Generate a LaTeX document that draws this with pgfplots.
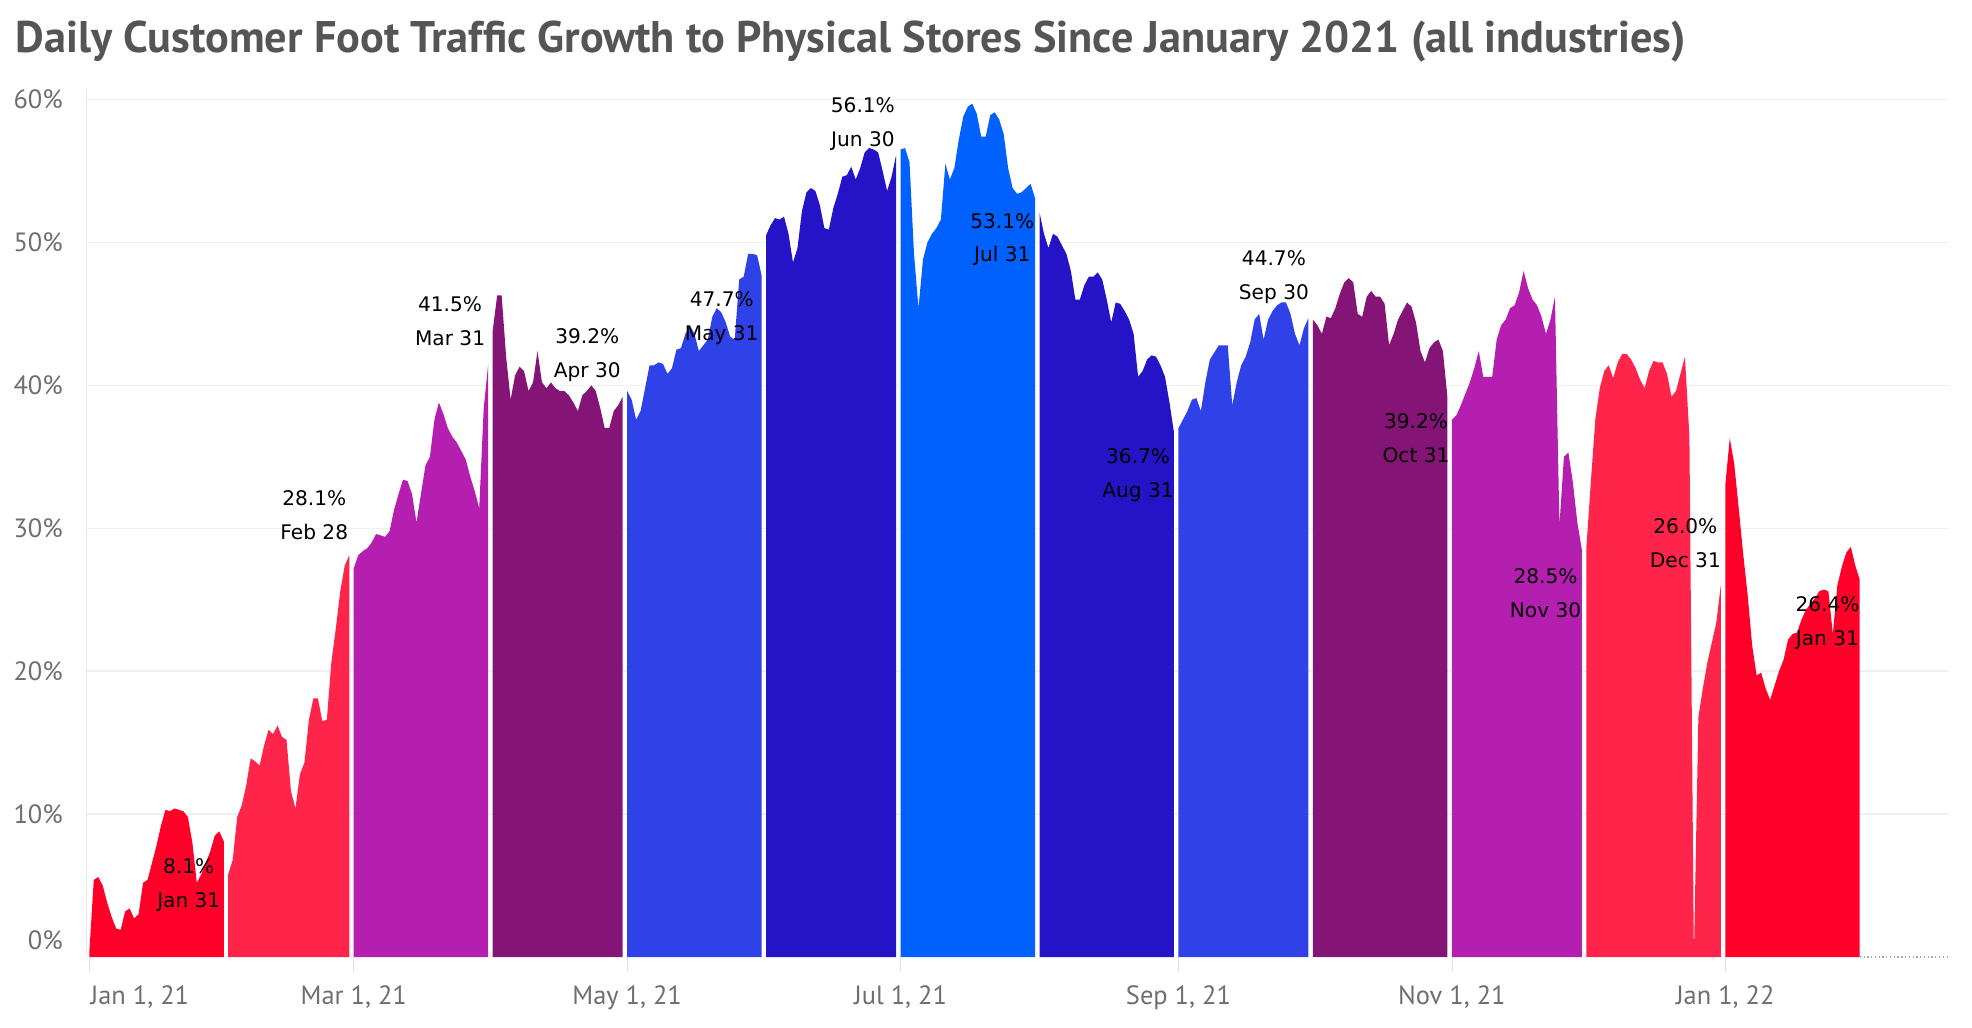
\documentclass[border=0pt]{standalone}
\usepackage{fontspec}
\usepackage{graphicx}
\usepackage{pgfplots}
\pgfplotsset{compat=1.18}
\setmainfont{PT Sans}
\newfontfamily\titlefont{PT Sans}
\newfontfamily\lblfont{DejaVu Sans}
\definecolor{cA}{RGB}{255,0,40}
\definecolor{cB}{RGB}{255,36,74}
\definecolor{cC}{RGB}{181,31,176}
\definecolor{cD}{RGB}{132,21,118}
\definecolor{cE}{RGB}{46,66,232}
\definecolor{cF}{RGB}{37,20,199}
\definecolor{cG}{RGB}{0,97,255}
\definecolor{titlegray}{RGB}{85,85,85}
\definecolor{tickgray}{RGB}{110,110,110}
\newcommand\janlbl{Jan 1, 21}
\begin{document}
\begin{tikzpicture}
\path[use as bounding box] (-34.5pt,-28pt) rectangle (749.5pt,380.5pt);
\node[anchor=base west, inner sep=0, text=titlegray] at (-28.5pt,359.5pt) {\resizebox{664pt}{!}{\titlefont\bfseries Daily Customer Foot Traffic Growth to Physical Stores Since January 2021 (all industries)}};
\begin{axis}[
  at={(0,0)}, anchor=south west, scale only axis,
  width=740.5pt, height=345.5pt,
  xmin=-0.56, xmax=415, ymin=0, ymax=60.8,
  clip=false,
  axis lines=left, axis line style={-},
  x axis line style={draw=none},
  y axis line style={draw=black!8},
  ytick={10,20,30,40,50,60},
  yticklabels={10\%,20\%,30\%,40\%,50\%,60\%},
  extra y ticks={0}, extra y tick labels={0\%},
  extra y tick style={yticklabel style={yshift=6.5pt}, grid=none},
  ytick style={draw=none},
  ymajorgrids, grid style={draw=black!6, line width=0.6pt},
  xtick={59,120,181,243,304,365},
  xticklabels={{Mar 1, 21},{May 1, 21},{Jul 1, 21},{Sep 1, 21},{Nov 1, 21},{Jan 1, 22}},
  extra x ticks={0}, extra x tick labels={\janlbl},
  extra x tick style={xticklabel style={anchor=north west, xshift=-3pt}},
  xtick style={draw=black!12},
  major tick length=6pt, tick align=outside,
  ticklabel style={font=\fontsize{10.5}{12}\selectfont, text=tickgray},
  xticklabel style={yshift=-2pt},
]
\addplot[densely dotted, black!35, line width=0.5pt] coordinates {(395,0) (415,0)};
% Jan 2021
\addplot[fill=cA, draw=none] coordinates {(0,0.3) (1,5.4) (2,5.6) (3,5.0) (4,3.8) (5,2.8) (6,2.0) (7,1.9) (8,3.2) (9,3.4) (10,2.7) (11,3.0) (12,5.2) (13,5.4) (14,6.6) (15,7.8) (16,9.2) (17,10.3) (18,10.2) (19,10.4) (20,10.3) (21,10.2) (22,9.8) (23,8.0) (24,5.2) (25,5.8) (26,6.6) (27,7.4) (28,8.5) (29,8.8) (30,8.1)} \closedcycle;
% Feb
\addplot[fill=cB, draw=none] coordinates {(31,5.8) (32,6.8) (33,9.8) (34,10.6) (35,12.0) (36,13.9) (37,13.7) (38,13.4) (39,14.8) (40,15.9) (41,15.6) (42,16.2) (43,15.4) (44,15.2) (45,11.6) (46,10.4) (47,12.8) (48,13.6) (49,16.6) (50,18.1) (51,18.1) (52,16.5) (53,16.6) (54,20.6) (55,23.0) (56,25.6) (57,27.4) (58,28.1)} \closedcycle;
% Mar
\addplot[fill=cC, draw=none] coordinates {(59,27.2) (60,28.1) (61,28.4) (62,28.6) (63,29.0) (64,29.6) (65,29.5) (66,29.4) (67,29.8) (68,31.3) (69,32.4) (70,33.4) (71,33.3) (72,32.4) (73,30.4) (74,32.4) (75,34.4) (76,35.0) (77,37.6) (78,38.8) (79,38.0) (80,37.0) (81,36.4) (82,36.0) (83,35.4) (84,34.8) (85,33.6) (86,32.6) (87,31.4) (88,38.4) (89,41.5)} \closedcycle;
% Apr
\addplot[fill=cD, draw=none] coordinates {(90,43.8) (91,46.3) (92,46.3) (93,42.0) (94,39.0) (95,40.7) (96,41.3) (97,41.0) (98,39.6) (99,40.2) (100,42.4) (101,40.2) (102,39.8) (103,40.2) (104,39.8) (105,39.6) (106,39.6) (107,39.3) (108,38.8) (109,38.2) (110,39.3) (111,39.6) (112,40.0) (113,39.6) (114,38.4) (115,37.0) (116,37.0) (117,38.2) (118,38.6) (119,39.2)} \closedcycle;
% May
\addplot[fill=cE, draw=none] coordinates {(120,39.6) (121,39.0) (122,37.6) (123,38.2) (124,39.8) (125,41.4) (126,41.4) (127,41.6) (128,41.5) (129,40.8) (130,41.2) (131,42.5) (132,42.6) (133,43.6) (134,44.2) (135,43.6) (136,42.4) (137,42.8) (138,43.2) (139,44.8) (140,45.4) (141,45.1) (142,44.4) (143,43.4) (144,43.2) (145,47.4) (146,47.6) (147,49.2) (148,49.2) (149,49.1) (150,47.7)} \closedcycle;
% Jun
\addplot[fill=cF, draw=none] coordinates {(151,50.5) (152,51.2) (153,51.7) (154,51.6) (155,51.8) (156,50.6) (157,48.6) (158,49.6) (159,52.2) (160,53.5) (161,53.8) (162,53.6) (163,52.6) (164,51.0) (165,50.9) (166,52.4) (167,53.4) (168,54.6) (169,54.7) (170,55.3) (171,54.4) (172,55.2) (173,56.3) (174,56.6) (175,56.5) (176,56.3) (177,55.0) (178,53.6) (179,54.6) (180,56.1)} \closedcycle;
% Jul
\addplot[fill=cG, draw=none] coordinates {(181,56.5) (182,56.6) (183,55.6) (184,49.2) (185,45.4) (186,48.8) (187,50.0) (188,50.6) (189,51.0) (190,51.6) (191,55.5) (192,54.4) (193,55.2) (194,57.2) (195,58.8) (196,59.5) (197,59.7) (198,59.0) (199,57.4) (200,57.4) (201,58.9) (202,59.1) (203,58.6) (204,57.6) (205,55.2) (206,53.8) (207,53.4) (208,53.5) (209,53.8) (210,54.1) (211,53.1)} \closedcycle;
% Aug
\addplot[fill=cF, draw=none] coordinates {(212,52.1) (213,50.6) (214,49.6) (215,50.6) (216,50.4) (217,49.8) (218,49.2) (219,48.0) (220,46.0) (221,46.0) (222,47.0) (223,47.6) (224,47.6) (225,47.9) (226,47.4) (227,46.0) (228,44.4) (229,45.8) (230,45.7) (231,45.2) (232,44.6) (233,43.6) (234,40.6) (235,41.0) (236,41.8) (237,42.1) (238,42.0) (239,41.4) (240,40.6) (241,38.8) (242,36.7)} \closedcycle;
% Sep
\addplot[fill=cE, draw=none] coordinates {(243,37.0) (244,37.6) (245,38.2) (246,39.0) (247,39.1) (248,38.2) (249,40.2) (250,41.8) (251,42.3) (252,42.8) (253,42.8) (254,42.8) (255,38.6) (256,40.2) (257,41.4) (258,42.0) (259,43.0) (260,44.6) (261,45.0) (262,43.2) (263,44.6) (264,45.2) (265,45.6) (266,45.8) (267,45.8) (268,45.0) (269,43.6) (270,42.8) (271,44.0) (272,44.7)} \closedcycle;
% Oct
\addplot[fill=cD, draw=none] coordinates {(273,44.6) (274,44.2) (275,43.6) (276,44.8) (277,44.7) (278,45.4) (279,46.4) (280,47.2) (281,47.5) (282,47.2) (283,45.0) (284,44.8) (285,46.2) (286,46.6) (287,46.2) (288,46.2) (289,45.7) (290,42.8) (291,43.6) (292,44.6) (293,45.2) (294,45.8) (295,45.5) (296,44.4) (297,42.4) (298,41.6) (299,42.6) (300,43.0) (301,43.2) (302,42.4) (303,39.2)} \closedcycle;
% Nov
\addplot[fill=cC, draw=none] coordinates {(304,37.6) (305,37.9) (306,38.6) (307,39.4) (308,40.2) (309,41.2) (310,42.4) (311,40.6) (312,40.6) (313,40.6) (314,43.2) (315,44.2) (316,44.6) (317,45.4) (318,45.6) (319,46.5) (320,48.0) (321,46.8) (322,46.0) (323,45.6) (324,44.8) (325,43.6) (326,44.6) (327,46.2) (328,30.2) (329,35.0) (330,35.3) (331,33.2) (332,30.4) (333,28.5)} \closedcycle;
% Dec
\addplot[fill=cB, draw=none] coordinates {(334,28.6) (335,33.2) (336,37.6) (337,39.8) (338,41.0) (339,41.4) (340,40.5) (341,41.6) (342,42.2) (343,42.2) (344,41.8) (345,41.2) (346,40.4) (347,39.8) (348,41.0) (349,41.7) (350,41.6) (351,41.6) (352,40.8) (353,39.2) (354,39.6) (355,40.8) (356,42.0) (357,36.4) (358,0.0) (359,16.8) (360,18.8) (361,20.6) (362,22.0) (363,23.4) (364,26.0)} \closedcycle;
% Jan 2022
\addplot[fill=cA, draw=none] coordinates {(365,33.0) (366,36.3) (367,34.5) (368,31.4) (369,28.2) (370,25.3) (371,21.8) (372,19.7) (373,19.9) (374,18.8) (375,18.0) (376,19.0) (377,20.0) (378,20.8) (379,22.2) (380,22.6) (381,22.7) (382,23.6) (383,24.3) (384,24.7) (385,25.1) (386,25.6) (387,25.7) (388,25.6) (389,22.6) (390,26.0) (391,27.3) (392,28.3) (393,28.7) (394,27.4) (395,26.4)} \closedcycle;
% labels
\tikzset{lbl/.style={font=\lblfont\fontsize{8}{13.5}\selectfont, align=center, inner sep=0pt, text=black}}
\node[lbl] at (axis cs:22.2,5.06) {8.1\%\\Jan 31};
\node[lbl] at (axis cs:50.2,30.92) {28.1\%\\Feb 28};
\node[lbl] at (axis cs:80.5,44.5) {41.5\%\\Mar 31};
\node[lbl] at (axis cs:111.1,42.1) {39.2\%\\Apr 30};
\node[lbl] at (axis cs:141.1,44.7) {47.7\%\\May 31};
\node[lbl] at (axis cs:172.6,58.3) {56.1\%\\Jun 30};
\node[lbl] at (axis cs:203.7,50.2) {53.1\%\\Jul 31};
\node[lbl] at (axis cs:234.0,33.74) {36.7\%\\Aug 31};
\node[lbl] at (axis cs:264.3,47.55) {44.7\%\\Sep 30};
\node[lbl] at (axis cs:296.0,36.29) {39.2\%\\Oct 31};
\node[lbl] at (axis cs:324.9,25.47) {28.5\%\\Nov 30};
\node[lbl] at (axis cs:356.1,28.99) {26.0\%\\Dec 31};
\node[lbl] at (axis cs:387.8,23.36) {26.4\%\\Jan 31};
\end{axis}
\end{tikzpicture}
\end{document}
